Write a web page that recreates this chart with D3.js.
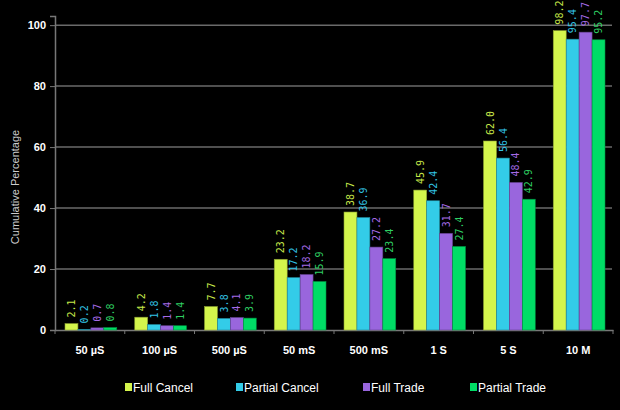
<!DOCTYPE html>
<html>
<head>
<meta charset="utf-8">
<script src="https://cdn.jsdelivr.net/npm/d3@7"></script>
<style>
  body { margin: 0; background: #000; }
  svg { display: block; }
</style>
</head>
<body>
<svg id="chart" width="620" height="410"></svg>
<script>
const categories = ['50 µS', '100 µS', '500 µS', '50 mS', '500 mS', '1 S', '5 S', '10 M'];
const seriesNames = ['Full Cancel', 'Partial Cancel', 'Full Trade', 'Partial Trade'];
const fullCancel = [2.1, 4.2, 7.7, 23.2, 38.7, 45.9, 62.0, 98.2];
const partialCancel = [0.2, 1.8, 3.8, 17.2, 36.9, 42.4, 56.4, 95.4];
const fullTrade = [0.7, 1.4, 4.1, 18.2, 27.2, 31.7, 48.4, 97.7];
const partialTrade = [0.8, 1.4, 3.9, 15.9, 23.4, 27.4, 42.9, 95.2];
const yTicks = [0, 20, 40, 60, 80, 100];

const barColors = ['#d4f54c', '#33cce8', '#9966dd', '#00dd66'];
const labelColors = ['#c8e84a', '#33c4e6', '#a56ae6', '#2fcf63'];

const series = [fullCancel, partialCancel, fullTrade, partialTrade];

const svg = d3.select('#chart');
svg.append('rect').attr('width', 620).attr('height', 410).attr('fill', '#000');

const x = d3.scaleBand().domain(categories).range([55, 613]).paddingInner(0).paddingOuter(0);
const xs = d3.scaleBand().domain(d3.range(4)).range([10, x.bandwidth() - 8]).padding(0);
const y = d3.scaleLinear().domain([0, 103]).range([330, 16]);

// gridlines
svg.append('g')
  .selectAll('line')
  .data(yTicks.filter(t => t > 0))
  .join('line')
  .attr('x1', 55).attr('x2', 612)
  .attr('y1', d => y(d)).attr('y2', d => y(d))
  .attr('stroke', '#6a6a6a').attr('stroke-width', 1.5);

// y axis
const yAxis = svg.append('g')
  .attr('transform', 'translate(55,0)')
  .call(d3.axisLeft(y).tickValues(yTicks).tickSize(5).tickPadding(4));
yAxis.select('.domain').attr('stroke', '#777').attr('stroke-width', 1.5);
yAxis.selectAll('.tick line').attr('stroke', '#777');
yAxis.selectAll('text')
  .attr('fill', '#fff')
  .attr('font-family', 'Liberation Sans, Arial, sans-serif')
  .attr('font-weight', 'bold')
  .attr('font-size', 11);

// x axis
const xAxis = svg.append('g')
  .attr('transform', 'translate(0,330)')
  .call(d3.axisBottom(x).tickSize(0).tickPadding(16));
xAxis.select('.domain').attr('stroke', '#777').attr('stroke-width', 1.5);
xAxis.selectAll('text')
  .attr('fill', '#fff')
  .attr('font-family', 'Liberation Sans, Arial, sans-serif')
  .attr('font-weight', 'bold')
  .attr('font-size', 11);
xAxis.selectAll('.bound')
  .data(categories.concat(['end']))
  .join('line')
  .attr('class', 'bound')
  .attr('x1', (d, i) => i < categories.length ? x(d) : x.range()[1])
  .attr('x2', (d, i) => i < categories.length ? x(d) : x.range()[1])
  .attr('y1', 0).attr('y2', 4)
  .attr('stroke', '#777');

// bars
const groups = svg.append('g')
  .selectAll('g')
  .data(categories)
  .join('g')
  .attr('transform', d => `translate(${x(d)},0)`);

groups.each(function (cat, ci) {
  const g = d3.select(this);
  series.forEach((vals, si) => {
    const v = vals[ci];
    g.append('rect')
      .attr('x', xs(si))
      .attr('y', y(v))
      .attr('width', xs.bandwidth())
      .attr('height', y(0) - y(v))
      .attr('fill', barColors[si])
      .attr('stroke', d3.color(barColors[si]).darker(1.2))
      .attr('stroke-width', 0.6);
    const lx = xs(si) + xs.bandwidth() / 2 + 3.6;
    const ly = y(v) - 6;
    g.append('text')
      .attr('transform', `translate(${lx},${ly}) rotate(-90)`)
      .attr('fill', labelColors[si])
      .attr('font-family', 'DejaVu Sans Mono, monospace')
      .attr('font-size', 10)
      .text(v.toFixed(1));
  });
});

// y title
svg.append('text')
  .attr('transform', 'translate(19,187) rotate(-90)')
  .attr('text-anchor', 'middle')
  .attr('fill', '#ccc')
  .attr('font-family', 'Liberation Sans, Arial, sans-serif')
  .attr('font-size', 11)
  .text('Cumulative Percentage');

// legend
const legendX = [125, 236, 363, 470];
const legend = svg.append('g')
  .selectAll('g')
  .data(seriesNames)
  .join('g')
  .attr('transform', (d, i) => `translate(${legendX[i]},387)`);
legend.append('rect')
  .attr('x', 0).attr('y', -4)
  .attr('width', 7).attr('height', 8)
  .attr('fill', (d, i) => barColors[i]);
legend.append('text')
  .attr('x', 8).attr('y', 4.5)
  .attr('fill', '#fff')
  .attr('font-family', 'Liberation Sans, Arial, sans-serif')
  .attr('font-size', 12)
  .text(d => d);
</script>
</body>
</html>
